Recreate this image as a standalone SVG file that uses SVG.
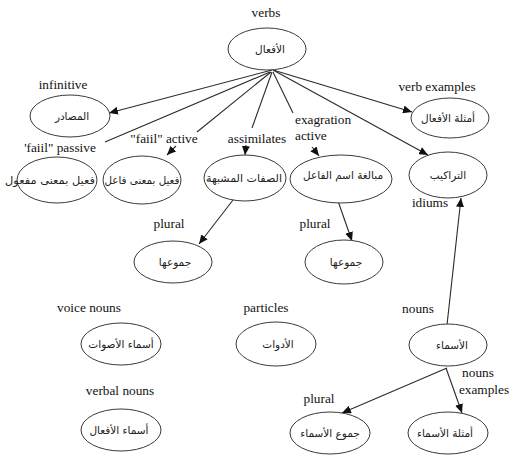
<svg xmlns="http://www.w3.org/2000/svg" width="517" height="455" viewBox="0 0 517 455">
<style>
.n{fill:#fff;stroke:#3a3a3a;stroke-width:1}
.ar{font-family:"DejaVu Sans",sans-serif;font-size:10.5px;fill:#222;text-anchor:middle}
.lb{font-family:"Liberation Serif","Times New Roman","DejaVu Serif",serif;font-size:13.3px;fill:#111}
.c{text-anchor:middle}
.e{stroke:#2a2a2a;stroke-width:1.1;fill:none}
.a{marker-end:url(#ah)}
</style>
<defs>
<marker id="ah" markerUnits="userSpaceOnUse" markerWidth="10" markerHeight="8" refX="9" refY="4" orient="auto">
<path d="M0,0 L9,4 L0,8 z" fill="#111"/>
</marker>
</defs>
<rect width="517" height="455" fill="#fff"/>
<g id="connectors">
<path class="e a" d="M272,70 L109,113"/>
<path class="e" d="M270,72 L105,142"/>
<path class="e" d="M271,72 L197,132"/>
<path class="e a" d="M176,146 L167,155"/>
<path class="e" d="M272,72 L252,128"/>
<path class="e a" d="M246,145 L245,155"/>
<path class="e" d="M273,72 L293,113"/>
<path class="e a" d="M312,147 L319,156"/>
<path class="e a" d="M273,70 L412,112"/>
<path class="e a" d="M273,70 L428,155"/>
<path class="e a" d="M233,200 L199,244"/>
<path class="e a" d="M338,201 L352,241"/>
<path class="e a" d="M447,325 L461,198"/>
<path class="e a" d="M447,368 L342,413"/>
<path class="e a" d="M446,368 L462,413"/>
</g>
<g id="verbs">
<ellipse class="n" cx="267" cy="49" rx="39" ry="21"/>
<text class="ar" x="270" y="53">الأفعال</text>
<text class="lb c" x="266" y="17">verbs</text>
</g>
<g id="infinitive">
<ellipse class="n" cx="70" cy="116" rx="40" ry="21"/>
<text class="ar" x="72" y="120">المصادر</text>
<text class="lb c" x="63" y="89">infinitive</text>
</g>
<g id="faiil-passive">
<ellipse class="n" cx="57" cy="180" rx="40" ry="23"/>
<text class="ar" x="50" y="184" textLength="90" lengthAdjust="spacingAndGlyphs">فعيل بمعنى مفعول</text>
<text class="lb c" x="60" y="152">'faiil" passive</text>
</g>
<g id="faiil-active">
<ellipse class="n" cx="142" cy="180" rx="39" ry="24"/>
<text class="ar" x="142" y="184" textLength="75" lengthAdjust="spacingAndGlyphs">فعيل بمعنى فاعل</text>
<text class="lb c" x="164" y="143">"faiil" active</text>
</g>
<g id="assimilates">
<ellipse class="n" cx="245" cy="178" rx="41" ry="23"/>
<text class="ar" x="244" y="182" textLength="76" lengthAdjust="spacingAndGlyphs">الصفات المشبهة</text>
<text class="lb c" x="257" y="143">assimilates</text>
</g>
<g id="exaggeration">
<ellipse class="n" cx="341" cy="179" rx="51" ry="24"/>
<text class="ar" x="343" y="179" textLength="80" lengthAdjust="spacingAndGlyphs">مبالغة اسم الفاعل</text>
<text class="lb" x="295" y="124">exagration</text>
<text class="lb" x="295" y="140">active</text>
</g>
<g id="idioms">
<ellipse class="n" cx="448" cy="175" rx="39" ry="23"/>
<text class="ar" x="448" y="179">التراكيب</text>
<text class="lb c" x="430" y="207">idiums</text>
</g>
<g id="verb-examples">
<ellipse class="n" cx="450" cy="118" rx="39" ry="20"/>
<text class="ar" x="448" y="122">أمثلة الأفعال</text>
<text class="lb c" x="437" y="91">verb examples</text>
</g>
<g id="plural-1">
<ellipse class="n" cx="173" cy="262" rx="39" ry="21"/>
<text class="ar" x="175" y="266">جموعها</text>
<text class="lb c" x="169" y="228">plural</text>
</g>
<g id="plural-2">
<ellipse class="n" cx="344" cy="262" rx="39" ry="22"/>
<text class="ar" x="346" y="266">جموعها</text>
<text class="lb c" x="315" y="228">plural</text>
</g>
<g id="voice-nouns">
<ellipse class="n" cx="121" cy="344" rx="40" ry="21"/>
<text class="ar" x="121" y="348">أسماء الأصوات</text>
<text class="lb c" x="89" y="312">voice nouns</text>
</g>
<g id="particles">
<ellipse class="n" cx="276" cy="344" rx="40" ry="22"/>
<text class="ar" x="278" y="348">الأدوات</text>
<text class="lb c" x="266" y="312">particles</text>
</g>
<g id="nouns">
<ellipse class="n" cx="448" cy="345" rx="39" ry="21"/>
<text class="ar" x="452" y="349">الأسماء</text>
<text class="lb c" x="418" y="313">nouns</text>
</g>
<g id="verbal-nouns">
<ellipse class="n" cx="121" cy="430" rx="40" ry="21"/>
<text class="ar" x="119" y="434">أسماء الأفعال</text>
<text class="lb c" x="120" y="395">verbal nouns</text>
</g>
<g id="nouns-plural">
<ellipse class="n" cx="330" cy="433" rx="40" ry="21"/>
<text class="ar" x="330" y="437">جموع الأسماء</text>
<text class="lb c" x="319" y="403">plural</text>
</g>
<g id="nouns-examples">
<ellipse class="n" cx="448" cy="433" rx="40" ry="21"/>
<text class="ar" x="445" y="437">أمثلة الأسماء</text>
<text class="lb c" x="478" y="377">nouns</text>
<text class="lb c" x="484" y="394">examples</text>
</g>
</svg>
